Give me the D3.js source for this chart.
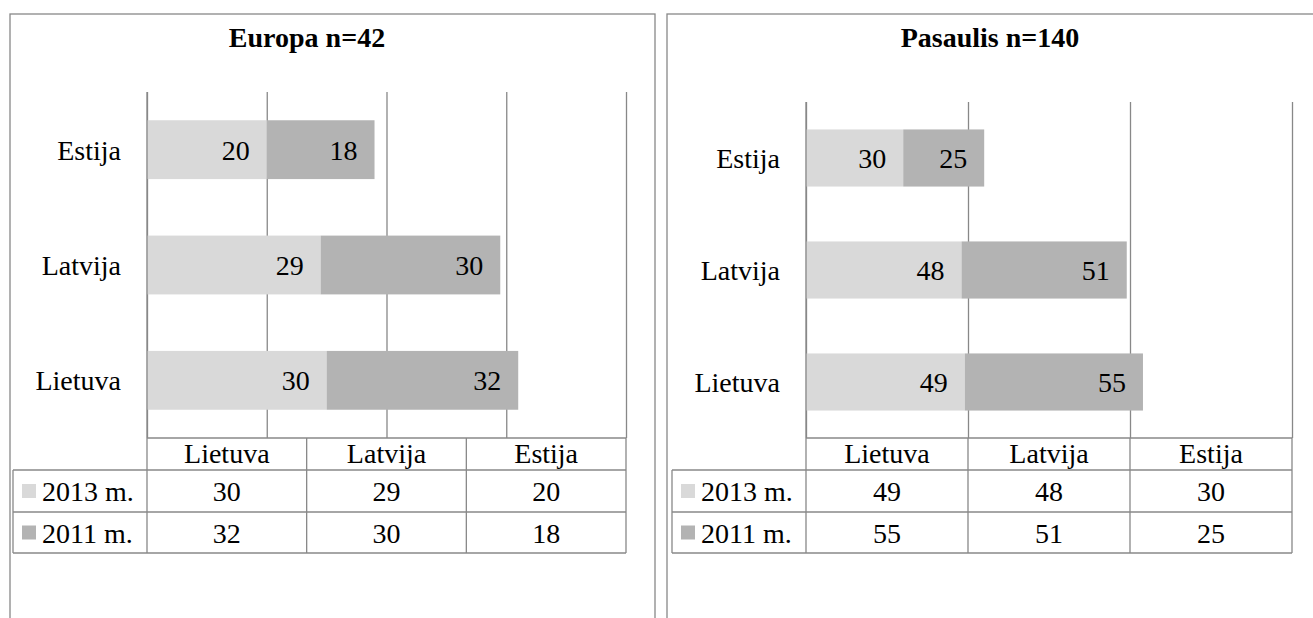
<!DOCTYPE html>
<html>
<head>
<meta charset="utf-8">
<script src="https://cdnjs.cloudflare.com/ajax/libs/d3/7.8.5/d3.min.js"></script>
<style>
  body { margin: 0; background: #fff; }
</style>
</head>
<body>
<div id="chart"></div>
<script>
// data
var categories = ["Lietuva", "Latvija", "Estija"];
var seriesNames = ["2013 m.", "2011 m."];
var seriesColors = ["#d9d9d9", "#b3b3b3"];

var europa2013 = [30, 29, 20];
var europa2011 = [32, 30, 18];
var europaTicks = [0, 20, 40, 60, 80];

var pasaulis2013 = [49, 48, 30];
var pasaulis2011 = [55, 51, 25];
var pasaulisTicks = [0, 50, 100, 150];

var W = 1313, H = 618;
var lineColor = "#888888";
var fontSize = 28;
var serifFace = "'Liberation Serif', 'Times New Roman', serif";

var svg = d3.select("#chart").append("svg")
    .attr("width", W).attr("height", H);

// table rows (y positions shared by both panels)
var headerTop = 438, rowTops = [470, 512], tableBottom = 553;

function txt(sel) {
    return sel.style("font-family", serifFace).style("font-size", fontSize + "px").attr("fill", "#000");
}

function panel(opt) {
    var g = svg.append("g");

    // frame
    g.append("rect")
        .attr("x", opt.frameX).attr("y", 14)
        .attr("width", opt.frameW).attr("height", 700)
        .attr("fill", "none").attr("stroke", lineColor).attr("stroke-width", 1.3);

    txt(g.append("text"))
        .attr("x", opt.titleX).attr("y", 47)
        .attr("text-anchor", "middle")
        .style("font-weight", "bold")
        .text(opt.title);

    var rows = categories.map(function (c, i) {
        return { cat: c, s0: opt.v2013[i], s1: opt.v2011[i] };
    });
    var stack = d3.stack().keys(["s0", "s1"])(rows);

    var x = d3.scaleLinear()
        .domain([0, opt.ticks[opt.ticks.length - 1]])
        .range([opt.x0, opt.x1]);
    var y = d3.scaleBand()
        .domain(categories.slice().reverse())
        .range([opt.top, headerTop])
        .paddingInner(0.49).paddingOuter(0.245);

    // gridlines
    var grid = g.append("g")
        .attr("transform", "translate(0," + opt.top + ")")
        .call(d3.axisTop(x).tickValues(opt.ticks).tickSize(-(headerTop - opt.top)).tickFormat(""));
    grid.select(".domain").remove();
    grid.selectAll("line").attr("stroke", lineColor).attr("stroke-width", 1.3);

    // bars
    stack.forEach(function (layer, si) {
        var lg = g.append("g");
        lg.selectAll("rect").data(layer).enter().append("rect")
            .attr("x", function (d) { return x(d[0]); })
            .attr("y", function (d) { return y(d.data.cat); })
            .attr("width", function (d) { return x(d[1]) - x(d[0]); })
            .attr("height", y.bandwidth())
            .attr("fill", seriesColors[si]);
        txt(lg.selectAll("text").data(layer).enter().append("text"))
            .attr("x", function (d) { return x(d[1]) - 17; })
            .attr("y", function (d) { return y(d.data.cat) + y.bandwidth() / 2 + 10; })
            .attr("text-anchor", "end")
            .text(function (d) { return d[1] - d[0]; });
    });

    // category axis
    var ya = g.append("g")
        .attr("transform", "translate(" + opt.x0 + ",0)")
        .call(d3.axisLeft(y).tickSize(0).tickPadding(26));
    ya.select(".domain").remove();
    txt(ya.selectAll("text"))
        .attr("dy", null).attr("y", 10);

    // data table
    var col = d3.scaleBand().domain(categories).range([opt.x0, opt.x1]);
    var t = g.append("g").attr("stroke", lineColor).attr("stroke-width", 1.3);
    t.append("line").attr("x1", opt.x0).attr("x2", opt.x1).attr("y1", headerTop).attr("y2", headerTop);
    rowTops.concat([tableBottom]).forEach(function (yy) {
        t.append("line").attr("x1", opt.tableLeft).attr("x2", opt.x1).attr("y1", yy).attr("y2", yy);
    });
    t.append("line").attr("x1", opt.tableLeft).attr("x2", opt.tableLeft).attr("y1", rowTops[0]).attr("y2", tableBottom);
    t.append("line").attr("x1", opt.x0).attr("x2", opt.x0).attr("y1", opt.top).attr("y2", tableBottom);
    categories.forEach(function (c) {
        t.append("line").attr("x1", col(c) + col.bandwidth()).attr("x2", col(c) + col.bandwidth())
            .attr("y1", headerTop).attr("y2", tableBottom);
    });

    txt(g.selectAll(".hdr").data(categories).enter().append("text"))
        .attr("class", "hdr")
        .attr("x", function (c) { return col(c) + col.bandwidth() / 2; })
        .attr("y", headerTop + 25)
        .attr("text-anchor", "middle")
        .text(function (c) { return c; });

    var vals = [opt.v2013, opt.v2011];
    seriesNames.forEach(function (s, si) {
        var rt = rowTops[si];
        var rh = (si + 1 < rowTops.length ? rowTops[si + 1] : tableBottom) - rt;
        g.append("rect")
            .attr("x", opt.tableLeft + 9).attr("y", rt + rh / 2 - 7)
            .attr("width", 14).attr("height", 14)
            .attr("fill", seriesColors[si]);
        txt(g.append("text"))
            .attr("x", opt.tableLeft + 29).attr("y", rt + rh / 2 + 10)
            .text(s);
        txt(g.selectAll(".v" + si).data(vals[si]).enter().append("text"))
            .attr("x", function (d, i) { return col(categories[i]) + col.bandwidth() / 2; })
            .attr("y", rt + rh / 2 + 10)
            .attr("text-anchor", "middle")
            .text(function (d) { return d; });
    });
}

panel({
    title: "Europa n=42", titleX: 307,
    frameX: 10, frameW: 645,
    x0: 147, x1: 626, top: 92, tableLeft: 13,
    v2013: europa2013, v2011: europa2011, ticks: europaTicks
});

panel({
    title: "Pasaulis n=140", titleX: 990,
    frameX: 667, frameW: 700,
    x0: 806, x1: 1292, top: 102, tableLeft: 672,
    v2013: pasaulis2013, v2011: pasaulis2011, ticks: pasaulisTicks
});
</script>
</body>
</html>
